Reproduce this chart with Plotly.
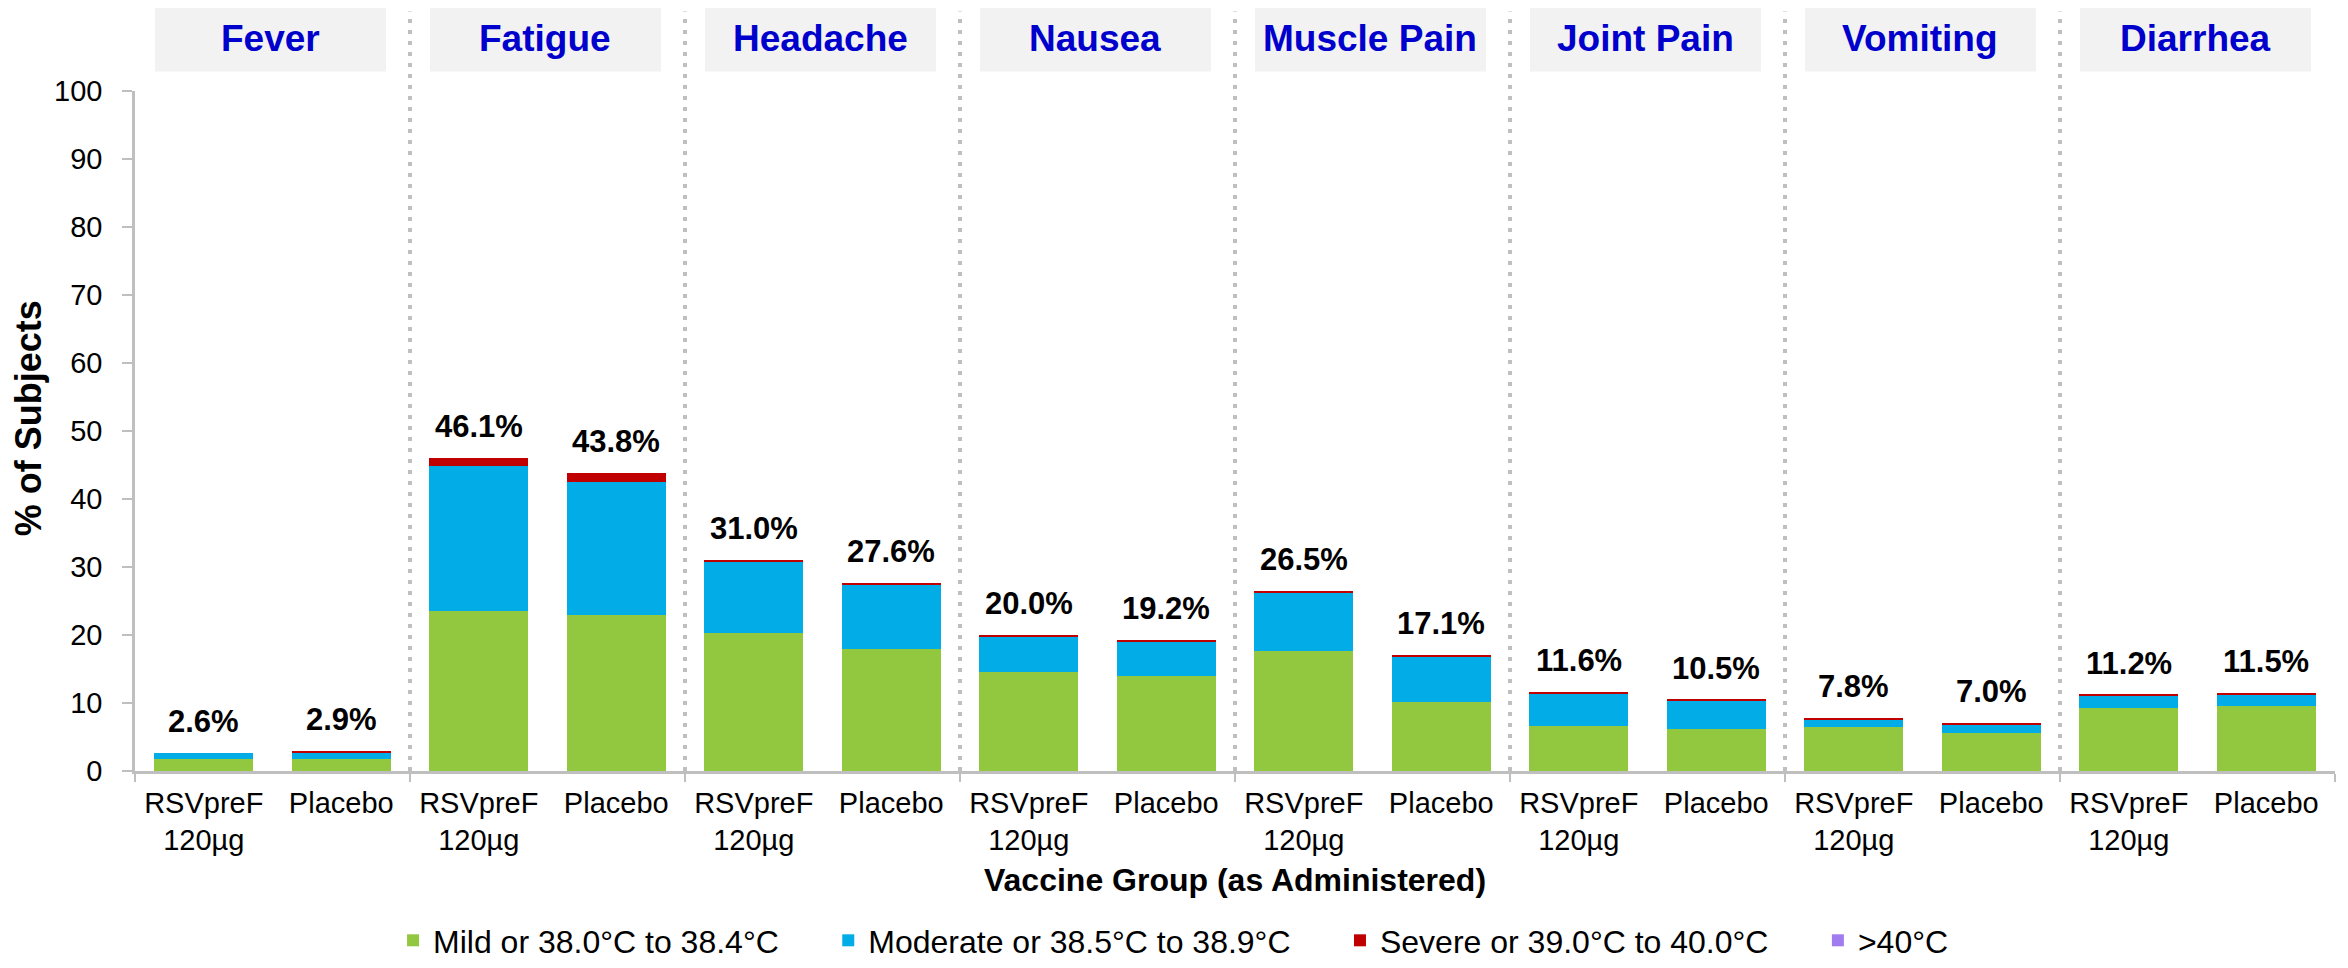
import plotly.graph_objects as go

# ---------------- data ----------------
symptoms = ["Fever", "Fatigue", "Headache", "Nausea", "Muscle Pain", "Joint Pain", "Vomiting", "Diarrhea"]
vaccine_groups = ["RSVpreF<br>120µg", "Placebo"]

series_names = ["Mild or 38.0°C to 38.4°C", "Moderate or 38.5°C to 38.9°C",
                "Severe or 39.0°C to 40.0°C", ">40°C"]

mild     = [1.8, 1.7, 23.5, 22.9, 20.3, 18.0, 14.5, 14.0, 17.7, 10.1, 6.6, 6.2, 6.5, 5.6, 9.3, 9.5]
moderate = [0.8, 1.0, 21.4, 19.6, 10.4, 9.3, 5.2, 4.9, 8.5, 6.7, 4.8, 4.2, 1.1, 1.3, 1.8, 1.8]
severe   = [0.0, 0.2, 1.2, 1.3, 0.3, 0.3, 0.3, 0.3, 0.3, 0.3, 0.2, 0.1, 0.2, 0.1, 0.1, 0.2]
above40  = [0.0, 0.0, 0.0, 0.0, 0.0, 0.0, 0.0, 0.0, 0.0, 0.0, 0.0, 0.0, 0.0, 0.0, 0.0, 0.0]
totals   = [2.6, 2.9, 46.1, 43.8, 31.0, 27.6, 20.0, 19.2, 26.5, 17.1, 11.6, 10.5, 7.8, 7.0, 11.2, 11.5]

y_ticks = [0, 10, 20, 30, 40, 50, 60, 70, 80, 90, 100]

# ---------------- styling ----------------
FONT = "Liberation Sans, Arial, sans-serif"
colors = ["#92C83F", "#02ADE7", "#C00000", "#A07CF0"]
GREY = "#BFBFBF"

# the page body adds an 8px margin, so the figure is 8px smaller than the window
W, H = 2340, 960

n_sub = len(vaccine_groups)
x = list(range(len(symptoms) * n_sub))
ticktext = vaccine_groups * len(symptoms)

fig = go.Figure()
for name, vals, col in zip(series_names, [mild, moderate, severe, above40], colors):
    fig.add_trace(go.Bar(x=x, y=vals, name=name + "\u00a0" * 5, marker=dict(color=col, line=dict(width=0)),
                         hoverinfo="skip"))

shapes = []
annotations = []

# group headers and separators
for g, sym in enumerate(symptoms):
    left = g * n_sub - 0.5
    right = left + n_sub
    shapes.append(dict(type="rect", xref="x", yref="paper", x0=left + 0.145, x1=right - 0.175,
                       y0=1.0287, y1=1.1244, fillcolor="#F2F2F2", line=dict(width=0), layer="below"))
    annotations.append(dict(xref="x", yref="paper", x=(left + right) / 2 - 0.015, y=1.0765,
                            text="<b>" + sym + "</b>", showarrow=False, xanchor="center", yanchor="middle",
                            font=dict(family=FONT, size=37, color="#0000CC")))
    if g > 0:
        shapes.append(dict(type="line", xref="x", yref="paper", x0=left, x1=left, y0=0, y1=1.117,
                           line=dict(color=GREY, width=4, dash="4px,7px"), layer="below"))

# data labels
for xi, t in zip(x, totals):
    annotations.append(dict(xref="x", yref="y", x=xi, y=t, text="<b>%.1f%%</b>" % t, showarrow=False,
                            xanchor="center", yanchor="bottom", yshift=12,
                            font=dict(family=FONT, size=31, color="black")))

# y-axis title
annotations.append(dict(xref="paper", yref="paper", x=-0.0486, y=0.519, text="<b>% of Subjects</b>",
                        textangle=-90, showarrow=False, xanchor="center", yanchor="middle",
                        font=dict(family=FONT, size=36, color="black")))

fig.update_layout(
    barmode="stack",
    bargap=0.28,
    width=W, height=H,
    margin=dict(l=127, r=13, t=83, b=197),
    plot_bgcolor="white", paper_bgcolor="white",
    font=dict(family=FONT, color="black"),
    shapes=shapes,
    annotations=annotations,
    showlegend=True,
    legend=dict(orientation="h", xref="container", yref="container", x=0.5075, xanchor="center",
                y=0.0, yanchor="bottom", font=dict(family=FONT, size=32, color="black"),
                traceorder="normal", bgcolor="rgba(0,0,0,0)"),
    xaxis=dict(range=[-0.5, len(x) - 0.5], tickmode="array", tickvals=x, ticktext=ticktext,
               ticks="", showline=True, linecolor=GREY, linewidth=2.5, showgrid=False, zeroline=False,
               tickfont=dict(family=FONT, size=29, color="black"), ticklabelstandoff=4,
               minor=dict(ticks="outside", ticklen=8, tickwidth=2, tickcolor=GREY,
                          tick0=-0.5, dtick=n_sub, showgrid=False),
               title=dict(text="<b>Vaccine Group (as Administered)</b>", standoff=14,
                          font=dict(family=FONT, size=32, color="black"))),
    yaxis=dict(range=[0, 100], tickmode="array", tickvals=y_ticks, ticks="outside", ticklen=10,
               tickwidth=2, tickcolor=GREY, showline=True, linecolor=GREY, linewidth=2.5,
               showgrid=False, zeroline=False, ticklabelstandoff=14,
               tickfont=dict(family=FONT, size=29, color="black")),
)

fig.write_html("out.html")
